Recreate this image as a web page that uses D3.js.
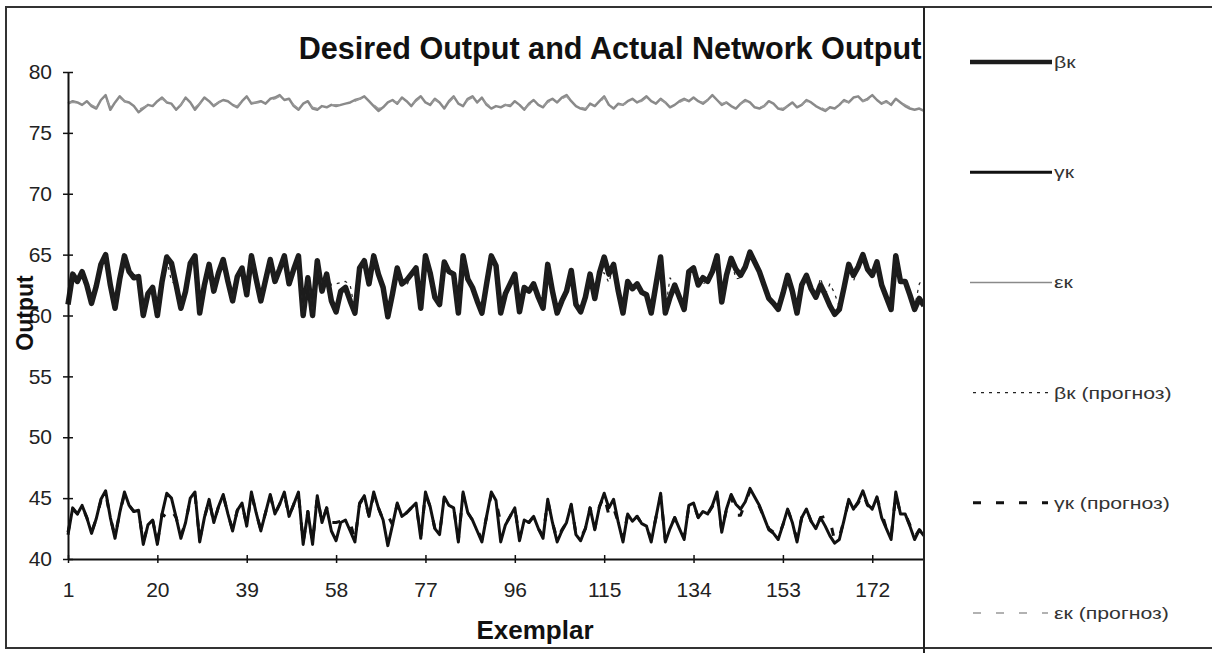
<!DOCTYPE html>
<html>
<head>
<meta charset="utf-8">
<script src="https://cdnjs.cloudflare.com/ajax/libs/d3/7.8.5/d3.min.js"></script>
<style>
body { margin: 0; background: #fff; }
</style>
</head>
<body>
<script>
// tick labels
var exemplarTicks = [1, 20, 39, 58, 77, 96, 115, 134, 153, 172];
var outputTicks = [40, 45, 50, 55, 60, 65, 70, 75, 80];

// series values, exemplar 1..183
var beta = [
60.9,63.4,62.8,63.6,62.5,61.0,62.4,64.2,65.0,62.5,
60.6,63.0,64.9,63.6,63.1,63.2,60.0,61.8,62.3,60.0,
62.8,64.8,64.3,62.5,60.6,62.0,64.3,64.9,60.2,62.5,
64.2,62.0,63.5,64.6,62.8,61.2,63.2,63.9,61.7,64.9,
63.0,61.2,62.9,64.6,62.8,63.8,64.9,62.6,63.8,64.9,
60.0,63.1,60.0,64.5,62.0,63.4,61.2,60.3,62.0,62.3,
61.2,60.2,63.9,64.5,62.6,64.9,63.4,62.3,59.9,61.8,
63.9,62.6,62.9,63.4,63.9,60.6,64.9,63.5,61.5,60.9,
64.4,63.6,63.4,60.2,64.9,63.0,62.3,61.2,60.2,62.6,
64.9,64.1,60.2,61.8,62.6,63.4,60.3,62.3,62.0,62.6,
61.5,60.6,64.2,62.0,60.2,61.2,62.0,63.7,60.9,60.3,
61.5,63.4,61.4,63.5,64.8,63.4,64.2,62.0,60.2,62.8,
62.2,62.6,61.9,61.7,60.2,62.5,64.8,60.2,61.5,62.5,
61.5,60.5,63.6,63.9,62.5,63.1,62.8,63.6,64.9,61.1,
63.3,64.7,63.8,63.3,64.0,65.2,64.4,63.6,62.5,61.4,
61.0,60.5,61.8,63.3,62.0,60.2,62.5,63.3,62.2,61.5,
62.5,61.7,60.8,60.1,60.5,62.3,64.2,63.3,64.0,65.0,
63.8,63.3,64.4,62.5,61.5,60.5,64.9,62.8,62.8,61.7,
60.5,61.4,60.8];

var gamma = [
42.0,44.2,43.7,44.4,43.4,42.1,43.3,44.9,45.6,43.4,
41.7,43.8,45.5,44.4,43.9,44.0,41.2,42.8,43.2,41.2,
43.7,45.4,45.0,43.4,41.7,43.0,45.0,45.5,41.4,43.4,
44.9,43.0,44.3,45.3,43.7,42.3,44.0,44.6,42.7,45.5,
43.8,42.3,43.8,45.3,43.7,44.5,45.5,43.5,44.5,45.5,
41.2,43.9,41.2,45.2,43.0,44.2,42.3,41.5,43.0,43.2,
42.3,41.4,44.6,45.2,43.5,45.5,44.2,43.2,41.1,42.8,
44.6,43.5,43.8,44.2,44.6,41.7,45.5,44.3,42.5,42.0,
45.1,44.4,44.2,41.4,45.5,43.8,43.2,42.3,41.4,43.5,
45.5,44.8,41.4,42.8,43.5,44.2,41.5,43.2,43.0,43.5,
42.5,41.7,44.9,43.0,41.4,42.3,43.0,44.5,42.0,41.5,
42.5,44.2,42.4,44.3,45.4,44.2,44.9,43.0,41.4,43.7,
43.1,43.5,42.9,42.7,41.4,43.4,45.4,41.4,42.5,43.4,
42.5,41.6,44.4,44.6,43.4,43.9,43.7,44.4,45.5,42.2,
44.1,45.3,44.5,44.1,44.7,45.8,45.1,44.4,43.4,42.4,
42.1,41.6,42.8,44.1,43.0,41.4,43.4,44.1,43.1,42.5,
43.4,42.7,41.9,41.3,41.6,43.2,44.9,44.1,44.7,45.6,
44.5,44.1,45.1,43.4,42.5,41.6,45.5,43.7,43.7,42.7,
41.6,42.4,41.9];

var epsilon = [
77.4,77.6,77.5,77.3,77.6,77.2,77.0,77.7,78.1,76.9,
77.5,78.0,77.6,77.5,77.2,76.7,77.0,77.3,77.2,77.6,
77.9,77.5,77.4,76.9,77.3,77.9,77.5,76.9,77.4,77.9,
77.6,77.2,77.5,77.7,77.6,77.3,77.1,77.6,78.0,77.4,
77.5,77.6,77.4,77.8,77.9,78.1,77.7,77.8,77.2,76.9,
77.4,77.6,77.0,76.9,77.2,77.1,77.3,77.2,77.3,77.4,
77.5,77.7,77.8,78.0,77.6,77.2,76.8,77.1,77.5,77.7,
77.4,77.9,77.6,77.2,77.7,78.0,77.5,77.3,77.8,77.5,
77.0,77.6,78.0,77.4,77.2,77.8,78.0,77.5,77.9,77.3,
77.0,77.2,77.1,77.3,77.2,77.6,77.3,76.9,77.4,77.7,
77.3,77.1,77.6,77.8,77.5,77.9,78.1,77.6,77.2,77.0,
76.9,77.4,77.2,77.6,78.0,77.3,77.0,77.4,77.3,77.6,
77.8,77.5,77.7,78.0,77.6,77.4,77.8,77.5,77.1,77.3,
77.6,77.8,77.6,77.9,77.6,77.4,77.7,78.1,77.7,77.3,
77.5,77.2,77.0,77.4,77.7,77.5,77.1,77.0,77.2,77.6,
77.4,77.0,76.9,77.2,77.5,77.1,77.3,77.7,77.5,77.2,
77.0,76.8,77.1,77.0,77.3,77.7,77.5,77.9,78.0,77.6,
77.8,78.1,77.7,77.4,77.6,77.3,77.8,77.5,77.2,77.0,
76.9,77.0,76.8];

var betaForecast = [
61.2,63.3,62.8,63.5,62.5,61.2,62.4,64.1,64.8,62.5,
60.8,63.0,64.7,63.6,63.1,63.2,60.3,61.8,62.3,60.3,
62.8,64.6,62.8,62.5,60.8,62.0,64.2,64.7,60.4,62.5,
64.0,62.0,63.5,64.5,62.8,61.4,63.2,63.8,61.8,64.7,
63.0,61.4,62.9,64.5,62.8,63.8,64.7,63.0,63.8,64.7,
60.3,63.1,60.3,64.3,62.6,63.4,62.5,62.6,62.7,62.8,
62.5,60.4,63.8,64.4,62.6,64.7,63.4,62.3,60.2,61.8,
63.8,62.6,62.4,63.4,63.8,60.8,64.7,63.5,61.5,61.1,
64.3,63.6,63.4,60.4,64.7,63.0,62.3,61.3,60.4,62.6,
64.7,64.0,60.4,61.8,62.6,63.4,60.5,62.3,62.0,62.6,
61.5,60.8,64.1,62.0,60.4,61.3,62.0,63.6,61.0,60.5,
61.5,63.4,61.5,63.5,63.5,62.7,64.1,62.0,60.4,62.8,
62.2,62.6,61.9,61.7,60.4,62.5,64.6,60.4,63.1,62.5,
61.5,60.7,63.5,63.8,62.5,62.6,62.8,63.6,64.7,61.2,
63.3,64.6,63.0,63.1,64.0,65.0,64.3,63.6,62.5,61.5,
61.1,60.7,61.8,63.3,62.0,60.4,62.5,63.3,62.2,61.6,
63.1,61.7,62.6,61.8,60.7,62.3,64.1,62.8,64.0,64.8,
63.8,63.3,64.3,62.5,61.5,60.7,64.7,62.8,62.8,61.7,
60.7,62.6,63.1];

var gammaForecast = [
42.2,44.1,43.7,44.3,43.4,42.2,43.3,44.8,45.4,43.4,
41.9,43.8,45.3,44.4,43.9,44.0,41.4,42.8,43.2,41.4,
43.7,43.4,44.0,43.4,41.9,43.0,44.9,45.3,41.6,43.4,
44.8,43.0,44.3,45.2,43.7,42.4,44.0,44.5,42.8,45.3,
43.8,42.4,43.8,45.2,43.7,44.5,45.3,43.5,44.5,45.3,
41.4,43.9,41.4,45.1,43.0,44.2,43.0,43.0,43.1,43.2,
43.0,41.6,44.5,45.1,43.5,45.3,44.2,43.2,43.6,42.8,
44.5,43.5,43.8,44.2,44.5,41.9,45.3,44.3,42.5,42.1,
45.0,44.4,44.2,41.6,45.3,43.8,43.2,42.4,41.6,43.5,
45.3,44.7,43.0,42.8,43.5,44.2,41.7,43.2,43.0,43.5,
42.5,41.9,44.8,43.0,41.6,42.4,43.0,44.4,42.1,41.7,
42.5,44.2,42.5,44.3,45.2,43.6,44.2,43.0,41.6,43.7,
43.1,43.5,42.9,42.7,41.6,43.4,45.2,41.6,42.5,43.4,
42.5,41.8,44.3,44.5,43.4,43.9,43.7,44.3,45.3,42.3,
44.1,45.2,43.6,43.6,44.6,45.6,45.0,44.3,43.4,42.5,
42.2,41.8,42.8,44.1,43.0,41.6,43.4,44.1,43.1,42.5,
43.4,43.5,43.2,41.5,41.8,43.2,44.8,44.1,44.6,45.4,
44.4,44.1,45.0,43.8,42.5,41.8,45.3,43.7,43.7,42.8,
41.8,42.4,42.0];

var epsilonForecast = [
77.5,77.5,77.5,77.4,77.5,77.3,77.1,77.6,77.9,77.1,
77.4,77.9,77.6,77.4,77.2,76.9,77.1,77.3,77.3,77.5,
77.8,77.5,77.3,77.0,77.3,77.8,77.5,77.1,77.4,77.8,
77.6,77.3,77.5,77.7,77.5,77.3,77.2,77.6,77.9,77.5,
77.5,77.5,77.4,77.7,77.8,78.0,77.7,77.7,77.3,77.0,
77.3,77.5,77.1,77.0,77.2,77.2,77.3,77.3,77.3,77.4,
77.5,77.6,77.8,77.9,77.6,77.3,77.0,77.1,77.4,77.6,
77.5,77.8,77.6,77.3,77.6,77.9,77.5,77.4,77.7,77.5,
77.1,77.5,77.9,77.5,77.3,77.7,77.9,77.5,77.8,77.4,
77.1,77.2,77.2,77.3,77.3,77.5,77.3,77.0,77.3,77.6,
77.4,77.2,77.5,77.7,77.5,77.8,78.0,77.6,77.3,77.1,
77.0,77.3,77.3,77.5,77.9,77.4,77.1,77.3,77.3,77.5,
77.7,77.5,77.6,77.9,77.6,77.5,77.7,77.5,77.2,77.3,
77.5,77.7,77.6,77.8,77.6,77.5,77.7,78.0,77.7,77.4,
77.5,77.3,77.1,77.4,77.6,77.5,77.2,77.1,77.2,77.5,
77.4,77.1,77.0,77.2,77.4,77.2,77.3,77.6,77.5,77.3,
77.1,76.9,77.1,77.1,77.3,77.6,77.5,77.8,77.9,77.6,
77.7,78.0,77.7,77.5,77.5,77.4,77.7,77.5,77.3,77.1,
77.0,77.0,76.9];

var seriesNames = ["βк", "γк", "εк", "βк (прогноз)", "γк (прогноз)", "εк (прогноз)"];

Width = 1212;
Height = 653;
var font = "'Liberation Sans', Arial, sans-serif";

var svg = d3.select("body").append("svg")
	.attr("width", Width)
	.attr("height", Height);

// line styles in the order of seriesNames
var styles = [
	{data: beta, color: "#1c1c1c", width: 5.5, dash: null},
	{data: gamma, color: "#111", width: 3, dash: null},
	{data: epsilon, color: "#8a8a8a", width: 2.5, dash: null},
	{data: betaForecast, color: "#222", width: 1.2, dash: "3,5"},
	{data: gammaForecast, color: "#111", width: 3, dash: "8,15"},
	{data: epsilonForecast, color: "#999", width: 1.5, dash: "8,15"}
];

var x = d3.scaleLinear().domain([1, beta.length]).range([68, 924]);
var y = d3.scaleLinear().domain([40, 80]).range([559, 72]);

// outer frame
svg.append("rect")
	.attr("x", 6).attr("y", 7)
	.attr("width", Width).attr("height", 641)
	.attr("style", "fill: #fff; stroke: #333; stroke-width: 2");

// lines
var line = d3.line()
	.x(function(d, i) { return x(i + 1); })
	.y(function(d) { return y(d); });

styles.forEach(function(s) {
	svg.append("path")
		.datum(s.data)
		.attr("d", line)
		.attr("fill", "none")
		.attr("stroke", s.color)
		.attr("stroke-width", s.width)
		.attr("stroke-linejoin", "round")
		.attr("stroke-dasharray", s.dash);
});

// axes
var yAxis = svg.append("g")
	.attr("transform", "translate(68,0)")
	.call(d3.axisLeft(y).tickValues(outputTicks).tickSize(5).tickSizeOuter(0).tickPadding(11));
yAxis.selectAll(".tick line").attr("x1", 5);

var xAxis = svg.append("g")
	.attr("transform", "translate(0,559)")
	.call(d3.axisBottom(x).tickValues(exemplarTicks).tickSize(4).tickSizeOuter(0).tickPadding(19));
xAxis.selectAll(".tick line").attr("y1", -4);

[yAxis, xAxis].forEach(function(g) {
	g.select(".domain").attr("stroke", "#111").attr("stroke-width", 2);
	g.selectAll(".tick line").attr("stroke", "#111").attr("stroke-width", 1.5);
	g.selectAll("text")
		.attr("font-family", font)
		.attr("font-size", 21)
		.attr("fill", "#222");
});

// title and axis labels
svg.append("text")
	.attr("x", 610).attr("y", 59)
	.attr("text-anchor", "middle")
	.attr("font-family", font).attr("font-size", 30.6).attr("font-weight", "bold")
	.attr("fill", "#111")
	.text("Desired Output and Actual Network Output");

svg.append("text")
	.attr("x", 535).attr("y", 639)
	.attr("text-anchor", "middle")
	.attr("font-family", font).attr("font-size", 26).attr("font-weight", "bold")
	.attr("fill", "#111")
	.text("Exemplar");

svg.append("text")
	.attr("transform", "translate(33,313) rotate(-90)")
	.attr("text-anchor", "middle")
	.attr("font-family", font).attr("font-size", 23).attr("font-weight", "bold")
	.attr("fill", "#111")
	.text("Output");

// legend panel covers the right part of the plot
svg.append("rect")
	.attr("x", 924).attr("y", 8)
	.attr("width", Width - 924).attr("height", 639)
	.attr("fill", "#fff");
svg.append("line")
	.attr("x1", 924).attr("x2", 924).attr("y1", 7).attr("y2", Height)
	.attr("stroke", "#222").attr("stroke-width", 2);

var legend = svg.append("g").selectAll("g")
	.data(seriesNames)
	.enter().append("g")
	.attr("transform", function(d, i) { return "translate(0," + (62 + i * 110.2) + ")"; });

legend.append("line")
	.attr("x1", function(d, i) { return i < 3 ? 970 : 973; })
	.attr("x2", function(d, i) { return i < 3 ? 1052 : 1048; })
	.attr("stroke", function(d, i) { return styles[i].color; })
	.attr("stroke-width", function(d, i) { return i == 0 ? 4.5 : (i == 2 ? 1.5 : styles[i].width); })
	.attr("stroke-dasharray", function(d, i) { return styles[i].dash; });

// the legend lettering is wide, so stretch it a little
legend.append("text")
	.attr("x", 1054)
	.attr("dy", "0.35em")
	.attr("font-family", font).attr("font-size", 17)
	.attr("fill", "#333")
	.text(function(d) { return d; })
	.attr("lengthAdjust", "spacingAndGlyphs")
	.attr("textLength", function() { return this.getComputedTextLength() * 1.25; });
</script>
</body>
</html>
